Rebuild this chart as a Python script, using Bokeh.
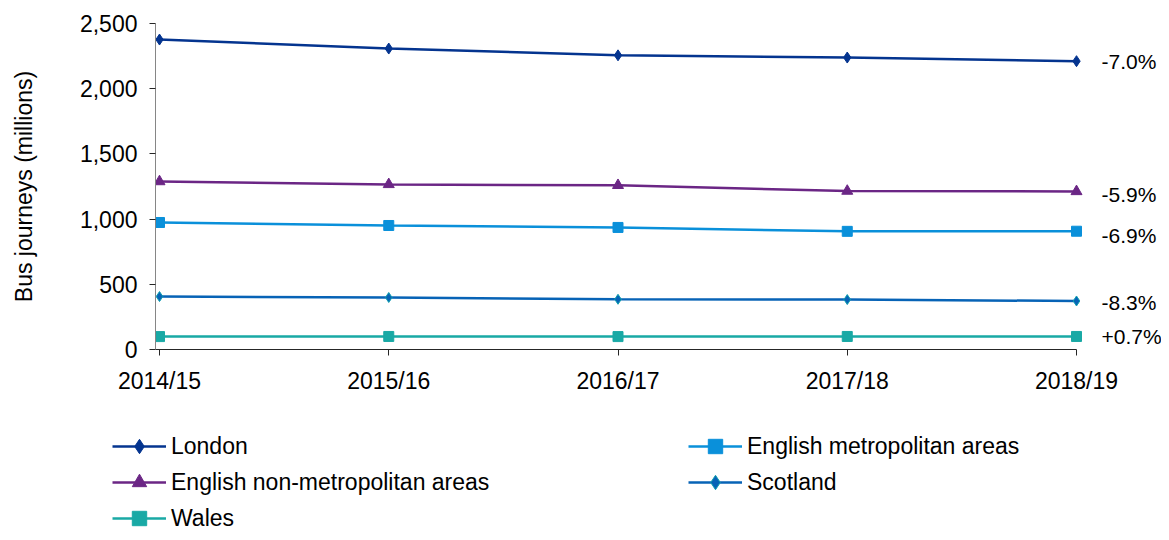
from bokeh.plotting import figure
from bokeh.models import (FixedTicker, NumeralTickFormatter, Legend, LegendItem,
                          Range1d, ColumnDataSource)
from bokeh.layouts import column
from bokeh.core.properties import value
from bokeh.embed import file_html
from bokeh.resources import INLINE

years = ["2014/15", "2015/16", "2016/17", "2017/18", "2018/19"]
london = [2377, 2308, 2256, 2239, 2211]
met = [974, 951, 936, 906, 907]
nonmet = [1288, 1266, 1259, 1215, 1212]
scotland = [406, 399, 385, 383, 372]
wales = [99, 100, 99, 100, 100]
pct_labels = ["-7.0%", "-5.9%", "-6.9%", "-8.3%", "+0.7%"]

FONT = "Liberation Sans"
xs = list(range(len(years)))

W, H_MAIN, H_LEG = 1161, 410, 122
left_px, x0_px, x4_px = 155, 159, 1076
ppu = (x4_px - x0_px) / (len(years) - 1)
x_start = -(x0_px - left_px) / ppu
x_end = (len(years) - 1) + (W - x4_px) / ppu

p = figure(width=W, height=H_MAIN, output_backend="svg", toolbar_location=None,
           x_range=Range1d(x_start, x_end), y_range=Range1d(0, 2500),
           min_border_left=left_px, min_border_right=0, min_border_top=23,
           min_border_bottom=H_MAIN - 349)
p.outline_line_color = None
p.xgrid.grid_line_color = None
p.ygrid.grid_line_color = None
p.frame_align = False

# name, values, colour, marker, chart marker size, legend marker size, marker edge
series = [
    ("London", london, "#04348F", "diamond", 11, 9, "#04348F"),
    ("English metropolitan areas", met, "#0A90DA", "square", 10, 8, "#0A90DA"),
    ("English non-metropolitan areas", nonmet, "#6B2685", "triangle", 11, 9, "#6B2685"),
    ("Scotland", scotland, "#0763B6", "diamond", 10, 8, "#10A0B0"),
    ("Wales", wales, "#19A9A5", "square", 10, 8, "#19A9A5"),
]

# legend lives in its own small figure underneath the chart (its data lie out of view)
pl = figure(width=W, height=H_LEG, output_backend="svg", toolbar_location=None,
            x_axis_location=None, y_axis_location=None,
            x_range=Range1d(-10, -9), y_range=Range1d(-10, -9),
            min_border_left=0, min_border_right=0, min_border_top=0, min_border_bottom=0)
pl.outline_line_color = None
pl.xgrid.grid_line_color = None
pl.ygrid.grid_line_color = None
pl.frame_align = False

items = {}
for name, vals, col, mk, sz, lsz, edge in series:
    p.line(xs, vals, line_color=col, line_width=2.5)
    p.scatter(xs, vals, marker=mk, size=sz, fill_color=col, line_color=edge, line_width=1)
    l1 = pl.line(xs, vals, line_color=col, line_width=2.5)
    l2 = pl.scatter(xs, vals, marker=mk, size=lsz, fill_color=col, line_color=edge, line_width=1)
    items[name] = LegendItem(label=name, renderers=[l1, l2])

last_vals = [london[-1], nonmet[-1], met[-1], scotland[-1], wales[-1]]
nudges = [0, 3, 4, 2, 0]
lab_src = ColumnDataSource(dict(x=[xs[-1]] * len(pct_labels), y=last_vals,
                                text=pct_labels, dy=nudges))
p.text(x="x", y="y", text="text", source=lab_src, x_offset=25, y_offset="dy",
       text_font=value(FONT), text_font_size="21px", text_color="#000000",
       text_baseline="middle", text_align="left")

order = ["London", "English metropolitan areas", "English non-metropolitan areas",
         "Scotland", "Wales"]
legend = Legend(items=[items[n] for n in order], location=(112, -4),
                orientation="horizontal", ncols=2,
                glyph_width=54, glyph_height=36, label_height=36,
                label_standoff=5, spacing=0, padding=0, margin=0,
                label_width=517,
                border_line_color=None, background_fill_alpha=0,
                label_text_font=FONT, label_text_font_size="23px",
                label_text_color="#000000")
pl.add_layout(legend, "center")

p.xaxis.ticker = FixedTicker(ticks=xs)
p.xaxis.major_label_overrides = {i: y for i, y in zip(xs, years)}
p.xaxis.bounds = (x_start, xs[-1])
p.yaxis.ticker = FixedTicker(ticks=[0, 500, 1000, 1500, 2000, 2500])
p.yaxis.formatter = NumeralTickFormatter(format="0,0")
for ax in (p.xaxis[0], p.yaxis[0]):
    ax.major_label_text_font = FONT
    ax.major_label_text_font_size = "23px"
    ax.major_label_text_color = "#000000"
    ax.minor_tick_line_color = None
    ax.major_tick_in = 0
    ax.major_tick_out = 6
p.xaxis.axis_line_color = "#262626"
p.xaxis.major_tick_line_color = "#262626"
p.xaxis.major_label_standoff = 12
p.yaxis.axis_line_color = "#868686"
p.yaxis.major_tick_line_color = "#262626"
p.yaxis.major_label_standoff = 12
p.yaxis.axis_label = "Bus journeys (millions)"
p.yaxis.axis_label_text_font = FONT
p.yaxis.axis_label_text_font_size = "23px"
p.yaxis.axis_label_text_font_style = "normal"
p.yaxis.axis_label_text_color = "#000000"
p.yaxis.axis_label_standoff = 40

layout = column(p, pl, spacing=0)
open("out.html", "w").write(file_html(layout, INLINE))
